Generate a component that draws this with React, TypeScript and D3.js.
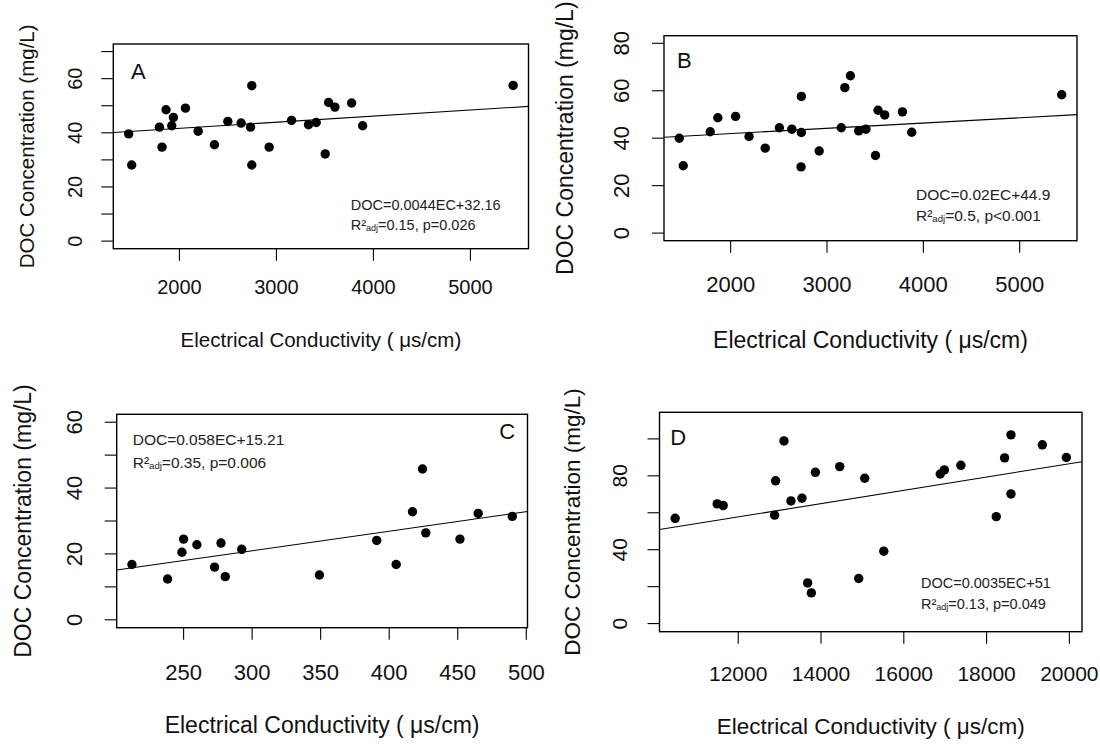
import React from "react";
import * as d3 from "d3";

// ---------- data ----------
const ecA = [1477, 1508, 1794, 1821, 1862, 1921, 1938, 2062, 2193, 2361, 2499, 2636, 2733, 2746, 2746, 2925, 3156, 3331, 3410, 3503, 3538, 3603, 3775, 3889, 5440];
const docA = [39.6, 28.1, 42.1, 34.7, 48.5, 42.6, 45.7, 49.1, 40.6, 35.6, 44.2, 43.6, 42.1, 57.4, 28.1, 34.7, 44.6, 43.0, 43.8, 32.2, 51.2, 49.5, 51.0, 42.6, 57.5];

const ecB = [1467, 1508, 1788, 1867, 2051, 2191, 2359, 2506, 2635, 2734, 2734, 2731, 2919, 3148, 3185, 3243, 3329, 3404, 3503, 3530, 3599, 3783, 3879, 5436];
const docB = [40.0, 28.4, 42.7, 48.6, 49.2, 40.7, 35.8, 44.4, 43.8, 57.6, 42.4, 27.9, 34.6, 44.4, 61.3, 66.3, 43.1, 43.8, 32.7, 51.8, 49.8, 51.1, 42.5, 58.3];

const ecC = [212.3, 238.3, 248.8, 250, 259.7, 272.6, 277.3, 280.4, 292.4, 349.1, 390.9, 405.1, 417.0, 424.3, 426.7, 451.6, 464.9, 489.8];
const docC = [16.8, 12.4, 20.5, 24.5, 22.8, 16.0, 23.3, 13.1, 21.4, 13.6, 24.1, 16.8, 32.8, 45.8, 26.4, 24.5, 32.3, 31.4];

const ecD = [10476, 11492, 11637, 12879, 12903, 13105, 13274, 13540, 13677, 13766, 13863, 14452, 14911, 15056, 15516, 16880, 16980, 17379, 18234, 18435, 18589, 18589, 19347, 19927];
const docD = [57.0, 64.8, 63.9, 58.7, 77.3, 98.9, 66.4, 67.9, 22.0, 16.6, 81.9, 85.0, 24.4, 78.7, 39.2, 81.0, 83.2, 85.7, 57.9, 89.7, 102.2, 70.2, 96.8, 89.9];

// fitted lines as drawn: [intercept, slope]
const fitA = [37.14, 0.002253];
const fitB = [37.5, 0.002225];
const fitC = [3.17, 0.0593];
const fitD = [14.55, 0.0036];

// y limits
const ylimA = [0, 70];
const ylimB = [0, 80];
const ylimC = [0, 60];
const ylimD = [0, 110];

// ticks
const yTicksA = [0, 10, 20, 30, 40, 50, 60, 70];
const yLabelsA = [0, 20, 40, 60];
const yTicksB = [0, 20, 40, 60, 80];
const yLabelsB = [0, 20, 40, 60, 80];
const yTicksC = [0, 10, 20, 30, 40, 50, 60];
const yLabelsC = [0, 20, 40, 60];
const yTicksD = [0, 20, 40, 60, 80, 100];
const yLabelsD = [0, 40, 80];
const xTicksA = [2000, 3000, 4000, 5000];
const xTicksB = [2000, 3000, 4000, 5000];
const xTicksC = [250, 300, 350, 400, 450, 500];
const xTicksD = [12000, 14000, 16000, 18000, 20000];

// text
const eqA = ["DOC=0.0044EC+32.16", "=0.15, p=0.026"];
const eqB = ["DOC=0.02EC+44.9", "=0.5, p<0.001"];
const eqC = ["DOC=0.058EC+15.21", "=0.35, p=0.006"];
const eqD = ["DOC=0.0035EC+51", "=0.13, p=0.049"];
const xTitle = "Electrical Conductivity ( μs/cm)";
const yTitle = "DOC Concentration (mg/L)";

const FONT = "'Liberation Sans', Arial, sans-serif";

type PanelProps = {
  xs: number[];
  ys: number[];
  fit: number[];
  ylim: number[];
  yTicks: number[];
  yLabels: number[];
  xTicks: number[];
  eq: string[];
  letter: string;
  frame: { l: number; r: number; t: number; b: number };
  letterPos: [number, number];
  eqPos: [number, number];
  eqSize: number;
  eqGap: number;
  tickSize: number;
  titleSize: number;
  xLabOff: number;
  yLabOff: number;
  xTitleOff: number;
  yTitleOff: number;
};

function pad(ext: number[]) {
  const d = (ext[1] - ext[0]) * 0.04;
  return [ext[0] - d, ext[1] + d];
}

function Panel(p: PanelProps) {
  const { l, r, t, b } = p.frame;
  const xExt = d3.extent(p.xs) as [number, number];
  const x = d3.scaleLinear().domain(pad(xExt)).range([l, r]);
  const y = d3.scaleLinear().domain(pad(p.ylim)).range([b, t]);
  const [x0, x1] = x.domain();
  const line = d3
    .line<number>()
    .x((v) => x(v))
    .y((v) => y(p.fit[0] + p.fit[1] * v));
  const tick = 12;
  const cx = (l + r) / 2;
  const cy = (t + b) / 2;
  const ylx = l - p.yLabOff;
  const yty = l - p.yTitleOff;
  return (
    <g fontFamily={FONT} fill="#000">
      <defs>
        <clipPath id={"clip" + p.letter}>
          <rect x={l} y={t} width={r - l} height={b - t} />
        </clipPath>
      </defs>
      <path d={line([x0, x1]) || ""} stroke="#000" strokeWidth={1.1} fill="none" clipPath={`url(#clip${p.letter})`} />
      {p.xs.map((v, i) => (
        <circle key={i} cx={x(v)} cy={y(p.ys[i])} r={4.7} fill="#000" />
      ))}
      <rect x={l} y={t} width={r - l} height={b - t} fill="none" stroke="#000" strokeWidth={1.4} />
      {p.xTicks.map((v) => (
        <g key={"xt" + v}>
          <line x1={x(v)} x2={x(v)} y1={b} y2={b + tick} stroke="#000" strokeWidth={1.1} />
          <text x={x(v)} y={b + p.xLabOff} textAnchor="middle" dominantBaseline="central" fontSize={p.tickSize} fill="#111">
            {v}
          </text>
        </g>
      ))}
      {p.yTicks.map((v) => (
        <line key={"yt" + v} x1={l - tick} x2={l} y1={y(v)} y2={y(v)} stroke="#000" strokeWidth={1.1} />
      ))}
      {p.yLabels.map((v) => (
        <text
          key={"yl" + v}
          x={ylx}
          y={y(v)}
          transform={`rotate(-90 ${ylx} ${y(v)})`}
          textAnchor="middle"
          dominantBaseline="central"
          fontSize={p.tickSize}
          fill="#111"
        >
          {v}
        </text>
      ))}
      <text x={cx} y={b + p.xTitleOff} textAnchor="middle" dominantBaseline="central" fontSize={p.titleSize} fill="#111">
        {xTitle}
      </text>
      <text
        x={yty}
        y={cy}
        transform={`rotate(-90 ${yty} ${cy})`}
        textAnchor="middle"
        dominantBaseline="central"
        fontSize={p.titleSize}
        fill="#111"
      >
        {yTitle}
      </text>
      <text x={p.letterPos[0]} y={p.letterPos[1]} textAnchor="middle" dominantBaseline="central" fontSize={22} fill="#111">
        {p.letter}
      </text>
      <text x={p.eqPos[0]} y={p.eqPos[1]} dominantBaseline="central" fontSize={p.eqSize} fill="#222">
        {p.eq[0]}
      </text>
      <text x={p.eqPos[0]} y={p.eqPos[1] + p.eqGap} dominantBaseline="central" fontSize={p.eqSize} fill="#222">
        <tspan>R²</tspan>
        <tspan fontSize={p.eqSize * 0.62} dy={3}>
          adj
        </tspan>
        <tspan dy={-3}>{p.eq[1]}</tspan>
      </text>
    </g>
  );
}

export default function App() {
  return (
    <svg
      width={1100}
      height={744}
      viewBox="0 0 1100 744"
      style={{ position: "absolute", left: 0, top: 0, background: "#fff" }}
    >
      <rect x={0} y={0} width={1100} height={744} fill="#fff" />
      <Panel
        xs={ecA}
        ys={docA}
        fit={fitA}
        ylim={ylimA}
        yTicks={yTicksA}
        yLabels={yLabelsA}
        xTicks={xTicksA}
        eq={eqA}
        letter="A"
        frame={{ l: 113.3, r: 528.5, t: 44, b: 248.7 }}
        letterPos={[138.3, 71.7]}
        eqPos={[350.7, 205]}
        eqSize={14.5}
        eqGap={19.5}
        tickSize={20}
        titleSize={20.5}
        xLabOff={38}
        yLabOff={38}
        xTitleOff={91}
        yTitleOff={87}
      />
      <Panel
        xs={ecB}
        ys={docB}
        fit={fitB}
        ylim={ylimB}
        yTicks={yTicksB}
        yLabels={yLabelsB}
        xTicks={xTicksB}
        eq={eqB}
        letter="B"
        frame={{ l: 664, r: 1077, t: 35.7, b: 240.7 }}
        letterPos={[684.3, 60]}
        eqPos={[916, 194]}
        eqSize={15.5}
        eqGap={21}
        tickSize={22}
        titleSize={23}
        xLabOff={44}
        yLabOff={42}
        xTitleOff={99}
        yTitleOff={99}
      />
      <Panel
        xs={ecC}
        ys={docC}
        fit={fitC}
        ylim={ylimC}
        yTicks={yTicksC}
        yLabels={yLabelsC}
        xTicks={xTicksC}
        eq={eqC}
        letter="C"
        frame={{ l: 116.7, r: 527.5, t: 414.3, b: 627.7 }}
        letterPos={[507.3, 431.7]}
        eqPos={[132.7, 439.3]}
        eqSize={15.5}
        eqGap={22.4}
        tickSize={22}
        titleSize={23}
        xLabOff={45}
        yLabOff={41.7}
        xTitleOff={97}
        yTitleOff={94}
      />
      <Panel
        xs={ecD}
        ys={docD}
        fit={fitD}
        ylim={ylimD}
        yTicks={yTicksD}
        yLabels={yLabelsD}
        xTicks={xTicksD}
        eq={eqD}
        letter="D"
        frame={{ l: 659.5, r: 1082, t: 412.3, b: 631.7 }}
        letterPos={[678.3, 437.3]}
        eqPos={[921, 583.3]}
        eqSize={14.5}
        eqGap={21}
        tickSize={21}
        titleSize={22.5}
        xLabOff={41.6}
        yLabOff={39.5}
        xTitleOff={95}
        yTitleOff={87.5}
      />
    </svg>
  );
}
